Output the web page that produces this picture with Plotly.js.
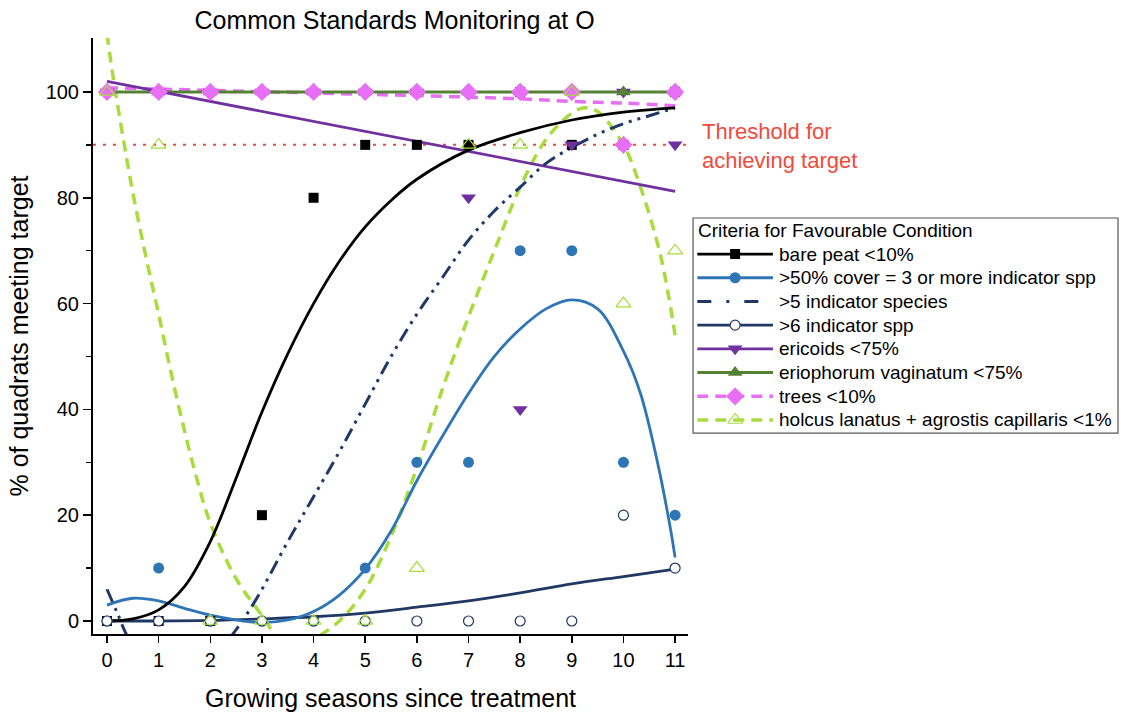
<!DOCTYPE html>
<html>
<head>
<meta charset="utf-8">
<script src="https://cdn.plot.ly/plotly-3.0.1.min.js"></script>
<style>html,body{margin:0;padding:0;background:#fff;}#chart{width:1121px;height:713px;}</style>
</head>
<body>
<div id="chart"></div>
<script>
// ---- observed data (growing seasons 0..11) ----
const seasons = [0,1,2,3,4,5,6,7,8,9,10,11];
const barePeat   = [0,0,0,20,80,90,90,90,100,90,90,100];
const cover50    = [0,10,0,0,0,10,30,30,70,70,30,20];
const ind6       = [0,0,0,0,0,0,0,0,0,0,20,10];
const ericoids   = [100,100,100,100,100,100,100,80,40,90,100,90];
const eriophorum = [100,100,100,100,100,100,100,100,100,100,100,100];
const trees      = [100,100,100,100,100,100,100,100,100,100,90,100];
const holcus     = [100,90,0,0,0,0,10,90,90,100,60,70];

// ---- fitted trend curves ----
const fitBareX = [0,0.5,1,1.5,2,2.5,3,3.5,4,4.5,5,5.5,6,7,8,9,10,11];
const fitBareY = [0,0.4,2.1,6.5,15,27,39.5,50.5,60,68,74.5,79.5,83.5,89,92.3,94.7,96.2,97];
const fitCoverX = [0,0.5,1,1.5,2,2.5,3,3.5,4,4.5,5,5.5,6,6.5,7,7.5,8,8.5,9,9.5,10,10.33,10.65,10.9,11];
const fitCoverY = [3,4.3,3.8,2.4,1.1,0.2,-0.3,0.2,1.8,4.9,9.8,17,26.5,35,43,50,55.2,59,60.7,59,51,43,30.4,18,12];
const fitInd5X = [0,0.2,0.4,0.8,1.4,2,2.45,2.9,3.5,4,4.5,5,5.5,6,6.5,7,7.5,8,8.5,9,9.5,10,10.5,11];
const fitInd5Y = [6,1.5,-3,-9,-11,-7,-2.3,4.3,15,23.5,32,41,50,58,65,72,77.5,82,86.5,89.5,92,94,95.5,97];
const fitInd6X = [0,1,2,3,4,5,6,7,8,9,10,11];
const fitInd6Y = [0,0,0.1,0.4,0.8,1.5,2.6,3.8,5.3,7,8.4,9.8];
const fitEricX = [0,11];
const fitEricY = [102,81.2];
const fitErioX = [0,11];
const fitErioY = [100,100];
const fitTreesX = [0,2,4,6,8,9,10,11];
const fitTreesY = [100.8,100.3,99.8,99.3,98.7,98.2,97.9,97.4];
const fitHolcX = [0,0.1,0.3,0.5,0.75,1,1.25,1.5,1.75,2,2.5,3,3.25,3.5,3.75,4,4.5,5,5.5,6,6.5,7,7.5,8,8.5,9,9.25,9.5,10,10.33,10.72,11];
const fitHolcY = [111,104,92,81,69,58,46.5,36,26.5,18.5,8,1,-2.5,-5,-5,-3.5,0,6,16,29,44,57.5,70,82,91,96,97,96.3,90,82,69,54];

const threshold = 90;
const xTicks = seasons;
const yTicks = [0,20,40,60,80,100];
const yMinorTicks = [10,30,50,70,90];

const legendTitle = 'Criteria for Favourable Condition';
const names = ['bare peat <10%','>50% cover = 3 or more indicator spp','>5 indicator species','>6 indicator spp','ericoids <75%','eriophorum vaginatum <75%','trees <10%','holcus lanatus + agrostis capillaris <1%'];
const C = {black:'#000000', blue:'#2e75b6', navy:'#203864', purple:'#7030a0', green:'#548235', pink:'#e86ef6', lime:'#a8dc3c', red:'#f24a3c'};

const styles = [
  {line:{color:C.black,width:2.8}, marker:{symbol:'square',size:10,color:C.black}},
  {line:{color:C.blue,width:2.8}, marker:{symbol:'circle',size:11,color:C.blue}},
  {line:{color:C.navy,width:3,dash:'14px,6px,3px,6px,3px,6px'}, legendDash:'14px,15px,3px,15px', marker:null},
  {line:{color:C.navy,width:2.8}, marker:{symbol:'circle',size:10,color:'#ffffff',line:{color:C.navy,width:1.2}}},
  {line:{color:C.purple,width:2.8}, marker:{symbol:'triangle-down',size:13,color:C.purple}},
  {line:{color:C.green,width:3}, marker:{symbol:'triangle-up',size:13,color:C.green}},
  {line:{color:C.pink,width:3.5,dash:'11px,7px'}, marker:{symbol:'diamond',size:14,color:C.pink}},
  {line:{color:C.lime,width:3.5,dash:'11px,7px'}, marker:{symbol:'triangle-up-open',size:13,color:C.lime,line:{color:C.lime,width:1.2}}}
];

const traces = [];

// threshold line
traces.push({x:[-0.271,11.25], y:[threshold,threshold], mode:'lines', line:{color:C.red,width:2,dash:'3px,7px'}, showlegend:false, hoverinfo:'skip'});

// fitted curves
const fits = [
  [fitHolcX,fitHolcY,7],[fitTreesX,fitTreesY,6],[fitErioX,fitErioY,5],[fitEricX,fitEricY,4],
  [fitInd6X,fitInd6Y,3],[fitInd5X,fitInd5Y,2],[fitCoverX,fitCoverY,1],[fitBareX,fitBareY,0]
];
fits.forEach(([fx,fy,i])=>{
  traces.push({x:fx, y:fy, mode:'lines', line:Object.assign({shape:'spline',smoothing:1}, styles[i].line), showlegend:false, hoverinfo:'skip'});
});

// observed markers
const obs = [[barePeat,0],[cover50,1],[ind6,3],[ericoids,4],[eriophorum,5],[trees,6],[holcus,7]];
obs.forEach(([vals,i])=>{
  traces.push({x:seasons, y:vals, mode:'markers', marker:styles[i].marker, showlegend:false, cliponaxis:false, hoverinfo:'skip'});
});

// custom legend (drawn on a hidden helper axis pair; rows indexed 0..7)
const legAnnots = [];
names.forEach((n,i)=>{
  const s = styles[i];
  const ln = Object.assign({}, s.line);
  if (s.legendDash) ln.dash = s.legendDash;
  traces.push({x:[0.01,0.188], y:[i,i], xaxis:'x2', yaxis:'y2', mode:'lines', line:ln, showlegend:false, hoverinfo:'skip'});
  if (s.marker) traces.push({x:[0.099], y:[i], xaxis:'x2', yaxis:'y2', mode:'markers', marker:s.marker, showlegend:false, hoverinfo:'skip'});
  legAnnots.push({xref:'x2', yref:'y2', x:0.198, y:i, xanchor:'left', yanchor:'middle', showarrow:false, text:n, font:{size:19,color:'#000'}});
});
legAnnots.push({xref:'x2', yref:'y2', x:0.006, y:-1, xanchor:'left', yanchor:'middle', showarrow:false, text:legendTitle, font:{size:19,color:'#000'}});

const font = 'Arial, "Liberation Sans", sans-serif';
const layout = {
  width:1121, height:713,
  paper_bgcolor:'#ffffff', plot_bgcolor:'#ffffff',
  margin:{l:93, r:0, t:38, b:79},
  font:{family:font, color:'#000', size:20},
  showlegend:false,
  title:{text:'Common Standards Monitoring at O', font:{family:font,size:25,color:'#000'}, x:0.352, xref:'container', xanchor:'center', y:0.972, yref:'container', yanchor:'middle'},
  xaxis:{domain:[0,0.5788], range:[-0.271,11.25], tickvals:xTicks, ticktext:xTicks.map(String), ticks:'outside', ticklen:7, tickwidth:1.5, tickcolor:'#000',
         showline:true, linecolor:'#000', linewidth:2, showgrid:false, zeroline:false, tickfont:{size:20},
         title:{text:'Growing seasons since treatment', font:{size:25}, standoff:19}},
  yaxis:{domain:[0,1], range:[-2.46,110.2], tickvals:yTicks, ticks:'outside', ticklen:8, tickwidth:1.5, tickcolor:'#000',
         minor:{tickvals:yMinorTicks, ticks:'outside', ticklen:5, tickwidth:1.5, tickcolor:'#000', showgrid:false},
         showline:true, linecolor:'#000', linewidth:2, showgrid:false, zeroline:false, tickfont:{size:20},
         title:{text:'% of quadrats meeting target', font:{size:25}, standoff:10}},
  xaxis2:{domain:[0.5837,0.9971], range:[0,1], anchor:'y2', visible:false, fixedrange:true},
  yaxis2:{domain:[0.3372,0.698], range:[7.55,-1.52], anchor:'x2', visible:false, fixedrange:true},
  shapes:[{type:'rect', xref:'x2 domain', yref:'y2 domain', x0:0, x1:1, y0:0, y1:1, line:{color:'#555',width:1.2}, fillcolor:'rgba(0,0,0,0)'}],
  annotations:[{xref:'paper', yref:'y', x:0.5905, y:89.7, xanchor:'left', yanchor:'middle', align:'left', showarrow:false,
                text:'Threshold for<br>achieving target', font:{size:22,color:C.red}}].concat(legAnnots)
};

Plotly.newPlot('chart', traces, layout, {displayModeBar:false, staticPlot:true});
</script>
</body>
</html>
